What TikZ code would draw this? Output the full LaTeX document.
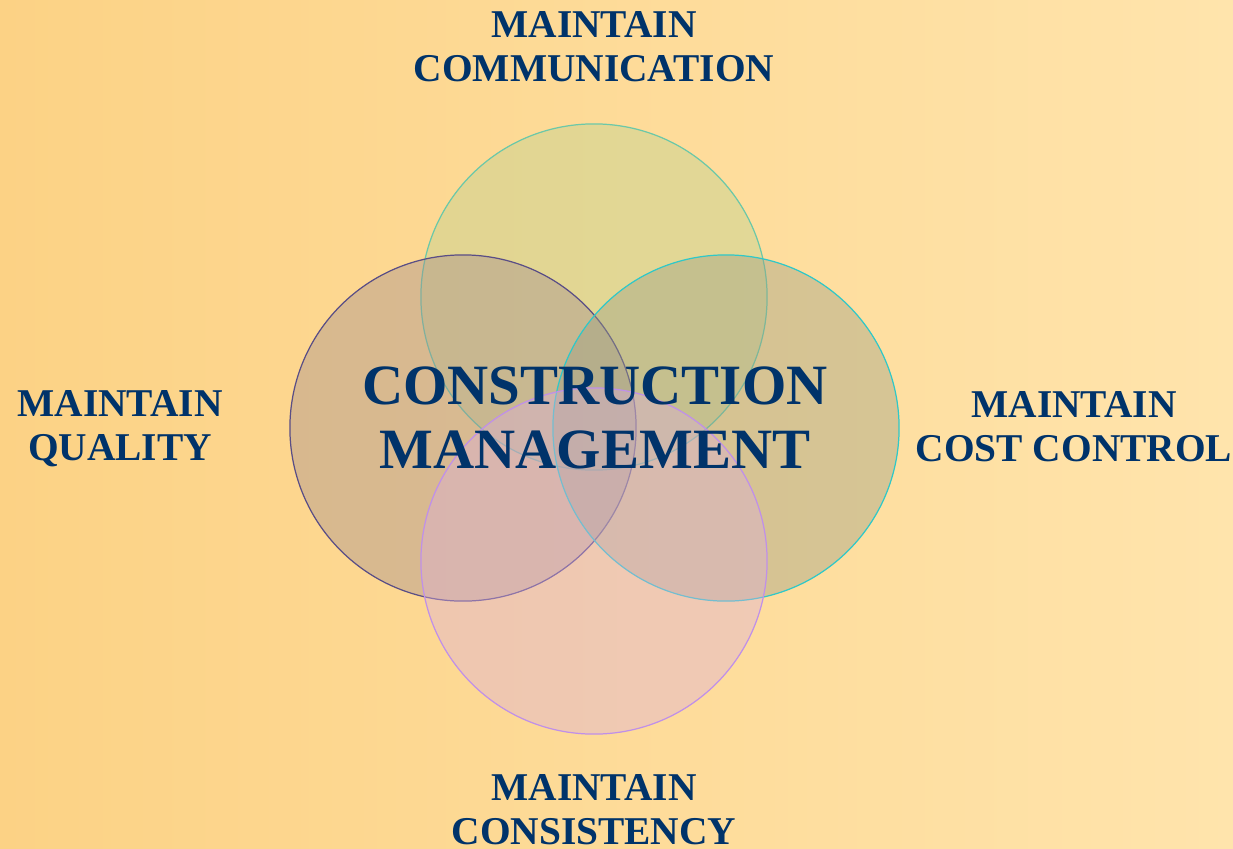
\documentclass[tikz,border=0pt]{standalone}
\usepackage{fontspec}
\setmainfont{Liberation Serif}
\usetikzlibrary{backgrounds}

\definecolor{navy}{HTML}{00336A}
\definecolor{bgleft}{HTML}{FCD285}
\definecolor{bgright}{HTML}{FFE4AC}
\definecolor{commfill}{HTML}{BAD18F}
\definecolor{commline}{HTML}{6CC8A8}
\definecolor{qualfill}{HTML}{A28C8E}
\definecolor{qualline}{HTML}{5A4E86}
\definecolor{costfill}{HTML}{9A9E84}
\definecolor{costline}{HTML}{30C8C8}
\definecolor{consfill}{HTML}{DCAEDA}
\definecolor{consline}{HTML}{C090E8}

\tikzset{
  ring/.style={line width=0.35pt, fill opacity=0.4},
  goal/.style={text=navy, align=center, font=\bfseries\fontsize{11.2}{12.5}\selectfont},
  core/.style={text=navy, align=center, font=\bfseries\fontsize{16.2}{18.4}\selectfont}
}

\begin{document}
\begin{tikzpicture}[x=0.01cm, y=-0.01cm]
\fill[left color=bgleft, right color=bgright] (0,0) rectangle (1233,848);
\useasboundingbox (0,0) rectangle (1233,848);

% the four overlapping circles
\draw[ring, draw=commline, fill=commfill] (594,297) circle[radius=1.73cm];
\draw[ring, draw=qualline, fill=qualfill] (463,428) circle[radius=1.73cm];
\draw[ring, draw=costline, fill=costfill] (726,428) circle[radius=1.73cm];
\draw[ring, draw=consline, fill=consfill] (594,561) circle[radius=1.73cm];

\node (core) at (595,418) [core] {CONSTRUCTION\\MANAGEMENT};

\node (comm) at (594,47) [goal] {MAINTAIN\\COMMUNICATION};
\node (qual) at (120,429) [goal] {MAINTAIN\\QUALITY};
\node (cost) at (1074,427) [goal] {MAINTAIN\\COST CONTROL};
\node (cons) at (594,810) [goal] {MAINTAIN\\CONSISTENCY};
\end{tikzpicture}
\end{document}
